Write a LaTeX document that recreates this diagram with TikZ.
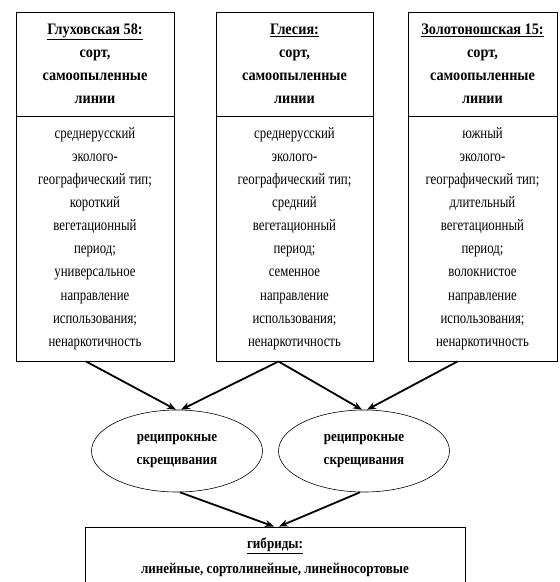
\documentclass[tikz,border=0pt]{standalone}
\usepackage{fontspec}
\setmainfont{Liberation Serif}
\newfontfamily\bodyfont[FakeStretch=0.8]{Liberation Serif}
\newfontfamily\hdfont[FakeStretch=0.89]{Liberation Serif}
\newfontfamily\elfont[FakeStretch=0.87]{Liberation Serif}
\usetikzlibrary{arrows.meta,shapes.geometric}
\tikzset{
  hbox/.style={draw, line width=0.9pt, rectangle, align=center, inner sep=0pt,
    font=\hdfont\bfseries\fontsize{16}{23}\selectfont},
  bbox/.style={draw, line width=0.9pt, rectangle, align=center, inner sep=0pt,
    font=\bodyfont\fontsize{16}{23.1}\selectfont},
  ell/.style={draw, line width=0.6pt, ellipse, minimum width=171pt, minimum height=82pt,
    align=center, inner sep=0pt, font=\elfont\bfseries\fontsize{15}{23}\selectfont},
  arr/.style={line width=1.8pt, -{Stealth[length=9pt,width=7pt]}}
}
\begin{document}
\begin{tikzpicture}[x=1pt,y=-1pt]
\useasboundingbox (0,0) rectangle (560,582);
\begin{scope}
\clip (0,0) rectangle (560,582);
\node[hbox, minimum width=158pt, minimum height=104pt] (h1) at (95,64)
  {\underline{Глуховская 58:}\\сорт,\\самоопыленные\\линии};
\node[bbox, minimum width=158pt, minimum height=245pt] (b1) at (95,238.5)
  {среднерусский\\эколого-\\географический тип;\\короткий\\вегетационный\\период;\\универсальное\\направление\\использования;\\ненаркотичность};
\node[hbox, minimum width=157pt, minimum height=104pt] (h2) at (294.5,64)
  {\underline{Глесия:}\\сорт,\\самоопыленные\\линии};
\node[bbox, minimum width=157pt, minimum height=245pt] (b2) at (294.5,238.5)
  {среднерусский\\эколого-\\географический тип;\\средний\\вегетационный\\период;\\семенное\\направление\\использования;\\ненаркотичность};
\node[hbox, minimum width=149pt, minimum height=104pt] (h3) at (482.5,64)
  {\underline{Золотоношская 15:}\\сорт,\\самоопыленные\\линии};
\node[bbox, minimum width=149pt, minimum height=245pt] (b3) at (482.5,238.5)
  {южный\\эколого-\\географический тип;\\длительный\\вегетационный\\период;\\волокнистое\\направление\\использования;\\ненаркотичность};
\node[ell] (e1) at (177,451) {реципрокные\\скрещивания};
\node[ell] (e2) at (364,451) {реципрокные\\скрещивания};
\node[hbox, minimum width=380pt, minimum height=61pt, font=\elfont\bfseries\fontsize{15}{25}\selectfont] (g) at (275,557.5)
  {\underline{гибриды:}\\линейные, сортолинейные, линейносортовые};
\draw[arr] ([xshift=-9pt]b1.south) -- ([xshift=-1pt]e1.north);
\draw[arr] ([xshift=-16pt]b2.south) -- ([xshift=4pt]e1.north);
\draw[arr] ([xshift=-16pt]b2.south) -- ([xshift=-2pt]e2.north);
\draw[arr] ([xshift=-25pt]b3.south) -- ([xshift=3pt]e2.north);
\draw[arr] ([xshift=3pt]e1.south) -- ([xshift=-1pt]g.north);
\draw[arr] ([xshift=-4pt]e2.south) -- ([xshift=4pt]g.north);
\end{scope}
\end{tikzpicture}
\end{document}
